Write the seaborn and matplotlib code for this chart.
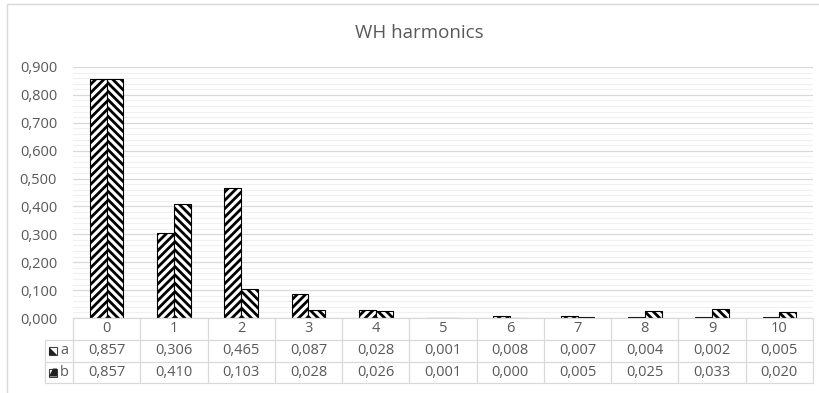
import matplotlib
matplotlib.use("Agg")
import matplotlib.pyplot as plt
import matplotlib.transforms as mtransforms
from matplotlib.patches import Rectangle, Polygon
from matplotlib.lines import Line2D
from matplotlib.ticker import MultipleLocator, FuncFormatter
import seaborn as sns
import pandas as pd

# ---- data ----
harmonics = ["0", "1", "2", "3", "4", "5", "6", "7", "8", "9", "10"]
series_names = ["a", "b"]
values_a = [0.857, 0.306, 0.465, 0.087, 0.028, 0.001, 0.008, 0.007, 0.004, 0.002, 0.005]
values_b = [0.857, 0.410, 0.103, 0.028, 0.026, 0.001, 0.000, 0.005, 0.025, 0.033, 0.020]
title = "WH harmonics"

sns.set_theme(style="white")
plt.rcParams["font.family"] = ["Open Sans", "DejaVu Sans"]
plt.rcParams["hatch.linewidth"] = 2.0
plt.rcParams["hatch.color"] = "black"

TXT = "#595959"
GRID = "#d9d9d9"
W, H = 820, 393

df = pd.DataFrame({
    "harmonic": harmonics * 2,
    "series": [series_names[0]] * len(harmonics) + [series_names[1]] * len(harmonics),
    "value": values_a + values_b,
})

fig = plt.figure(figsize=(W / 100, H / 100), dpi=100)
fig.patch.set_facecolor("white")

def fx(px):
    return px / W

def fy(py):
    return 1 - py / H

# chart frame
fig.add_artist(Rectangle((fx(7), fy(H + 10)), 1.2, fy(4) - fy(H + 10), transform=fig.transFigure,
                         fill=False, edgecolor="#d9d9d9", lw=1.0))

ax = fig.add_axes([fx(73), fy(318), fx(813) - fx(73), fy(67) - fy(318)])
sns.barplot(data=df, x="harmonic", y="value", hue="series", order=harmonics,
            hue_order=series_names, palette=["white", "white"], edgecolor="black",
            linewidth=0.8, width=0.5, saturation=1, ax=ax, legend=False)

hatches = ["/" * 4, "\\" * 4]
for cont, h in zip(ax.containers, hatches):
    for p in cont.patches:
        p.set_hatch(h)
        p.set_edgecolor("black")

ax.set_ylim(0, 0.9)
ax.set_xlim(-0.5, len(harmonics) - 0.5)
ax.yaxis.set_major_locator(MultipleLocator(0.1))
ax.yaxis.set_minor_locator(MultipleLocator(0.02))
ax.yaxis.set_major_formatter(FuncFormatter(lambda v, p: f"{v:.3f}".replace(".", ",")))
ax.grid(which="minor", axis="y", color="#f0f0f0", lw=0.8)
ax.grid(which="major", axis="y", color=GRID, lw=0.9)
ax.set_axisbelow(True)
ax.tick_params(axis="y", which="both", length=0, pad=11.5, labelsize=10.5, labelcolor=TXT)
ax.tick_params(axis="x", which="both", length=0, labelbottom=False)
ax.set_xlabel("")
ax.set_ylabel("")
for s in ["top", "right", "left"]:
    ax.spines[s].set_visible(False)
ax.spines["bottom"].set_color(GRID)
ax.spines["bottom"].set_linewidth(0.9)
ax.patch.set_alpha(0)

fig.text(0.511, fy(33), title, ha="center", va="center", fontsize=13.5, color=TXT)

# ---- data table ----
bt = mtransforms.blended_transform_factory(ax.transData, fig.transFigure)
y_rows = [318, 340, 362, 383]
x_left = -0.5
x_right = len(harmonics) - 0.5
legend_left = fx(45)

def hline(py, x0_fig=None):
    fig.add_artist(Line2D([x_left, x_right], [fy(py), fy(py)], transform=bt, color=GRID, lw=0.9))
    if x0_fig is not None:
        fig.add_artist(Line2D([x0_fig, fx(73)], [fy(py), fy(py)], transform=fig.transFigure,
                              color=GRID, lw=0.9))

for py in y_rows[1:]:
    hline(py, legend_left)
for i in range(len(harmonics) + 1):
    xv = i - 0.5
    fig.add_artist(Line2D([xv, xv], [fy(318), fy(383)], transform=bt, color=GRID, lw=0.9))
fig.add_artist(Line2D([legend_left, legend_left], [fy(340), fy(383)], transform=fig.transFigure,
                      color=GRID, lw=0.9))

row_centers = [(318 + 340) / 2, (340 + 362) / 2, (362 + 383) / 2]
FS = 10.5
for i, lab in enumerate(harmonics):
    fig.text(i, fy(row_centers[0]), lab, transform=bt, ha="center", va="center",
             fontsize=FS, color=TXT)
    fig.text(i, fy(row_centers[1]), f"{values_a[i]:.3f}".replace(".", ","), transform=bt,
             ha="center", va="center", fontsize=FS, color=TXT)
    fig.text(i, fy(row_centers[2]), f"{values_b[i]:.3f}".replace(".", ","), transform=bt,
             ha="center", va="center", fontsize=FS, color=TXT)

# legend keys in table
for k, (name, rc) in enumerate(zip(series_names, row_centers[1:])):
    x0, x1 = fx(49), fx(57)
    y0, y1 = fy(rc + 4), fy(rc - 4)
    fig.add_artist(Rectangle((x0, y0), x1 - x0, y1 - y0, transform=fig.transFigure,
                             facecolor="white", edgecolor="#404040", lw=0.8))
    if k == 0:
        tri = [(x0, y0), (x1, y0), (x0, y1)]
    else:
        tri = [(x1, y1), (x1, y0), (x0, y0), (x0 + (x1 - x0) * 0.5, y1)]
    fig.add_artist(Polygon(tri, closed=True, transform=fig.transFigure,
                           facecolor="#202020", edgecolor="none"))
    fig.text(fx(60), fy(rc), name, ha="left", va="center", fontsize=FS, color=TXT)

fig.savefig("out.png", dpi=100, facecolor="white")
